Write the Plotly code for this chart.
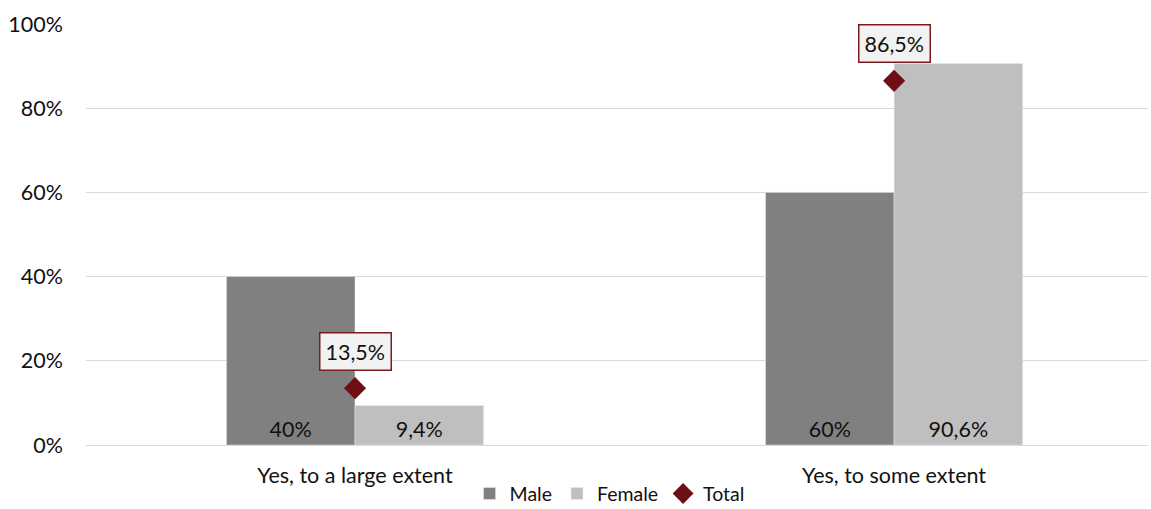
import plotly.graph_objects as go

categories = ["Yes, to a large extent", "Yes, to some extent"]
male = [40, 60]
female = [9.4, 90.6]
total = [13.5, 86.5]
male_labels = ["40%", "60%"]
female_labels = ["9,4%", "90,6%"]
total_labels = ["13,5%", "86,5%"]
y_ticks = [0, 20, 40, 60, 80, 100]
y_tick_text = ["0%", "20%", "40%", "60%", "80%", "100%"]

FONT = "Lato, Carlito, Calibri, sans-serif"
FS = 21.5
DARK_RED = "#6E0F16"
TXT = "#111111"

fig = go.Figure()
fig.add_trace(go.Bar(
    x=categories, y=male, name="Male", marker_color="#808080",
    text=male_labels, textposition="inside", insidetextanchor="start",
    textfont=dict(size=FS, color=TXT, family=FONT), textangle=0,
))
fig.add_trace(go.Bar(
    x=categories, y=female, name="Female", marker_color="#BFBFBF",
    text=female_labels, textposition="inside", insidetextanchor="start",
    textfont=dict(size=FS, color=TXT, family=FONT), textangle=0,
))
fig.add_trace(go.Scatter(
    x=categories, y=total, name="Total", mode="markers",
    marker=dict(symbol="diamond", size=17, color=DARK_RED),
))

for c, v, t in zip(categories, total, total_labels):
    fig.add_annotation(
        x=c, y=v, text=t, showarrow=False, yshift=37,
        font=dict(size=FS, color=TXT, family=FONT),
        bgcolor="#F2F2F2", bordercolor="#7B1A1F", borderwidth=1.5, borderpad=5,
    )

fig.update_layout(
    width=1151, height=509,
    margin=dict(l=86, r=3, t=24, b=64, autoexpand=False),
    paper_bgcolor="white", plot_bgcolor="white",
    barmode="group", bargap=0.523, bargroupgap=0,
    font=dict(family=FONT, size=FS, color=TXT),
    showlegend=True,
    legend=dict(orientation="h", x=0.493, xanchor="center",
                yref="paper", y=-0.116, yanchor="middle",
                font=dict(size=19.5, family=FONT, color=TXT),
                itemwidth=30, tracegroupgap=0),
    xaxis=dict(type="category", range=[-0.499, 1.471], showgrid=False,
               showline=False, ticks="", automargin=False, ticklabelstandoff=15,
               tickfont=dict(size=FS, family=FONT)),
    yaxis=dict(range=[0, 100], tickvals=y_ticks, ticktext=y_tick_text,
               showgrid=True, gridcolor="#D9D9D9", gridwidth=1.3,
               zeroline=True, zerolinecolor="#D9D9D9", zerolinewidth=1.3,
               showline=False, ticks="", ticklabelstandoff=22, automargin=False,
               tickfont=dict(size=FS, family=FONT)),
)

fig.write_html("out.html", config={"displayModeBar": False},
               post_script="document.body.style.margin='0';document.body.style.overflow='hidden';")
